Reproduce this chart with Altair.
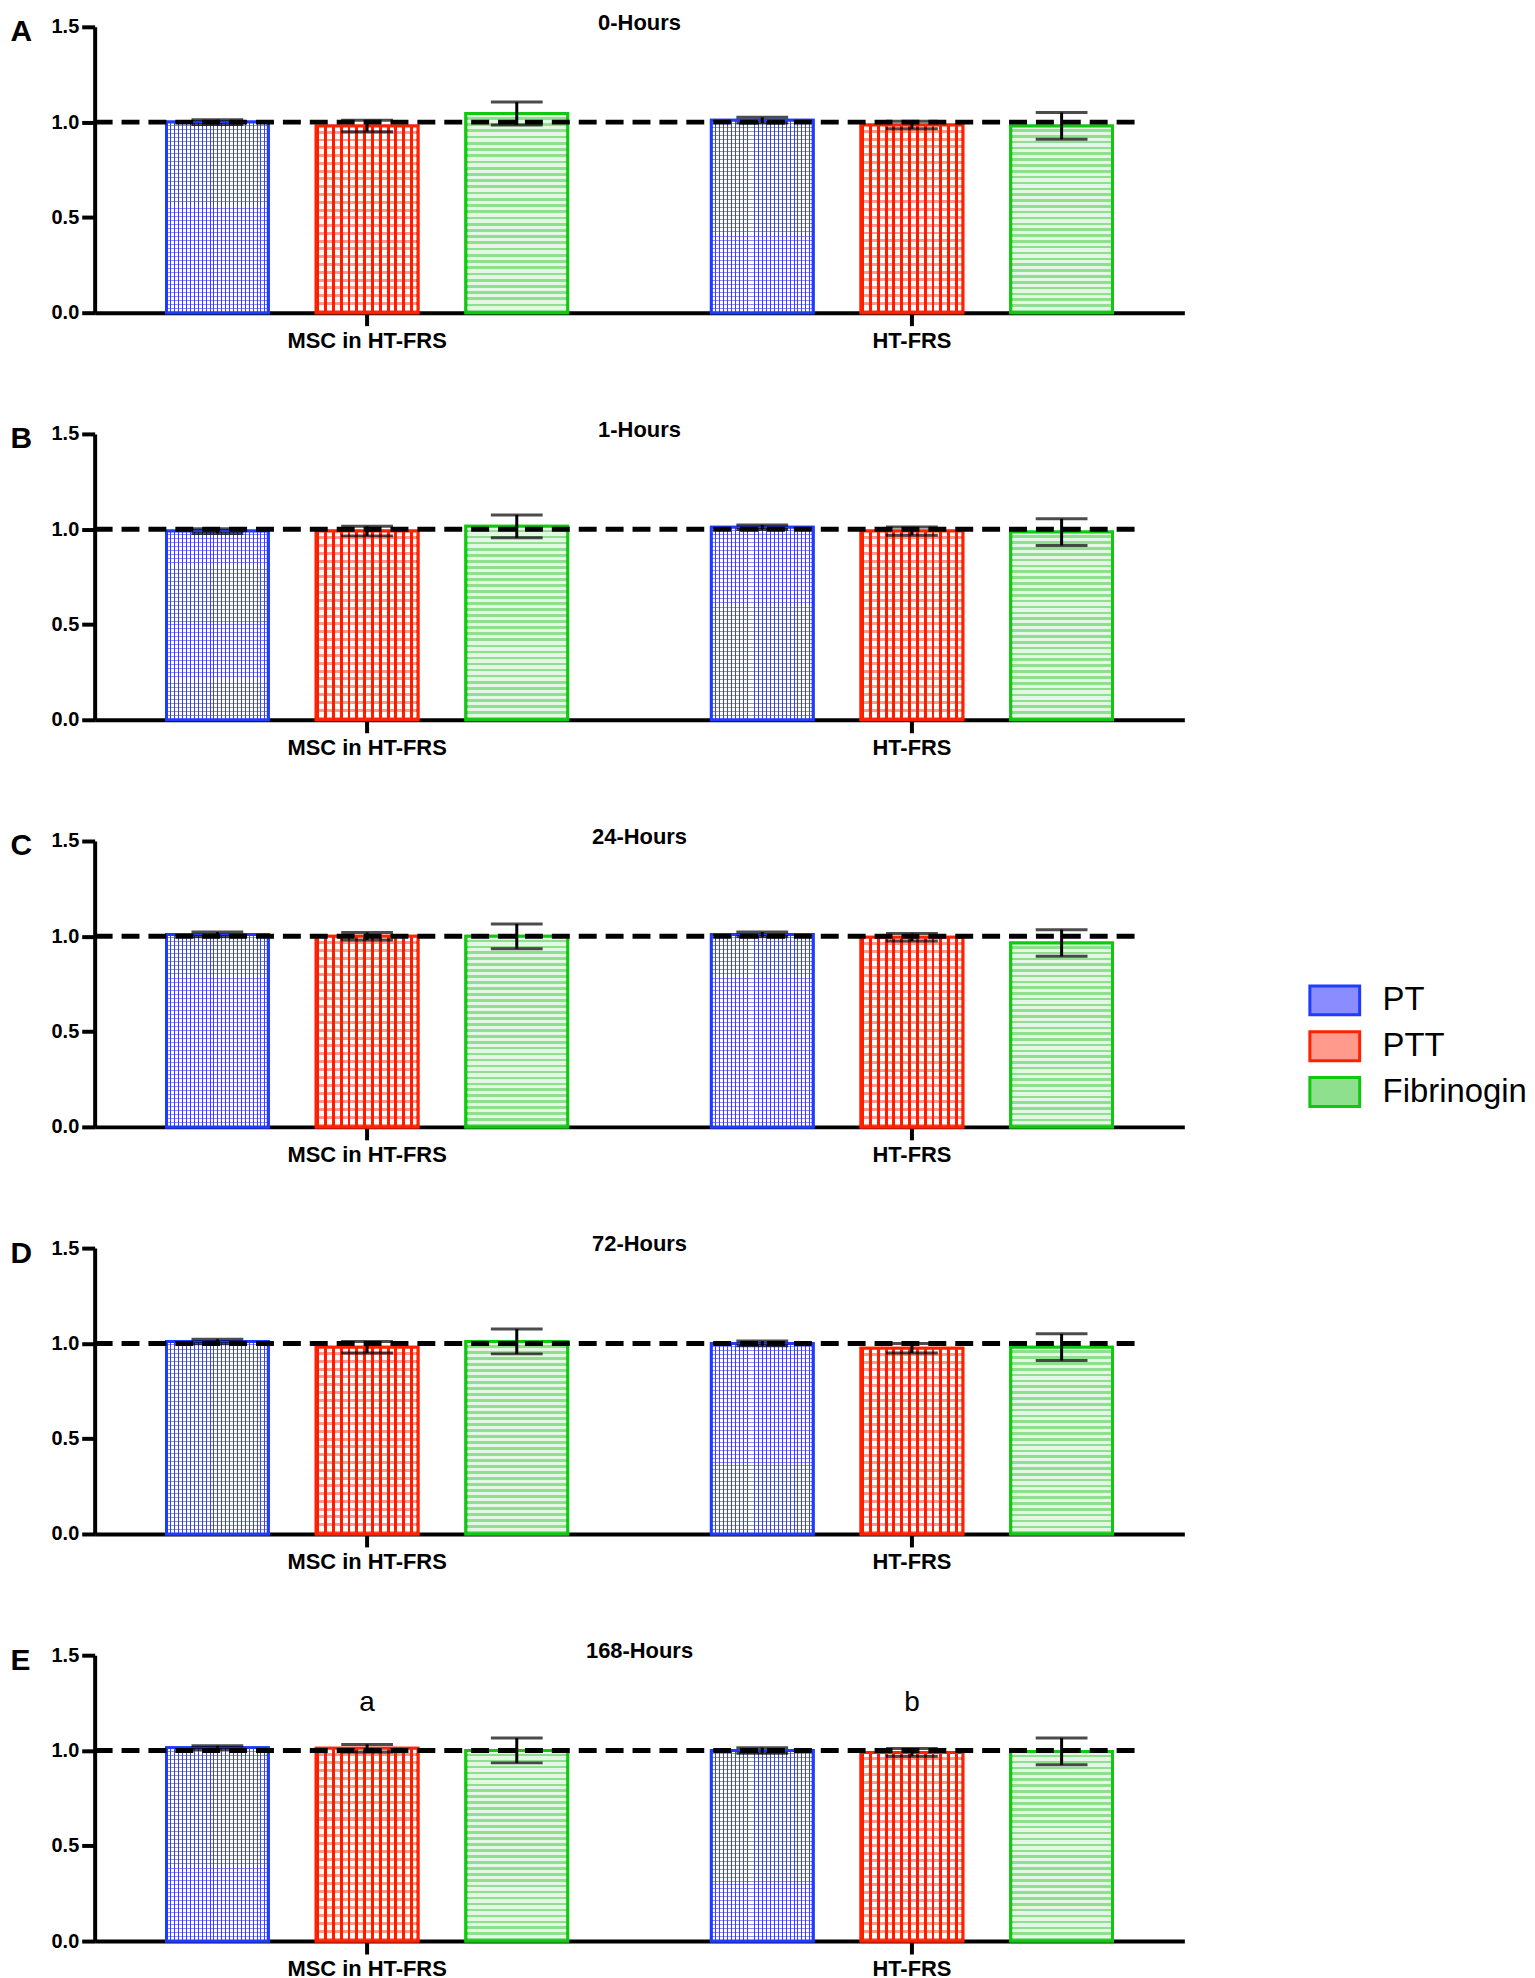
import altair as alt
import pandas as pd

groups = ["MSC in HT-FRS", "HT-FRS"]
series = ["PT", "PTT", "Fibrinogin"]
panel_letters = ["A", "B", "C", "D", "E"]
panel_titles = ["0-Hours", "1-Hours", "24-Hours", "72-Hours", "168-Hours"]

# ratio to baseline, order: MSC PT, PTT, Fib | HT-FRS PT, PTT, Fib
means = [
    [1.000, 0.980, 1.045, 1.010, 0.985, 0.980],
    [0.990, 0.990, 1.015, 1.010, 0.990, 0.985],
    [1.010, 1.000, 1.000, 1.010, 0.995, 0.965],
    [1.010, 0.980, 1.010, 1.000, 0.975, 0.980],
    [1.015, 1.012, 1.000, 1.000, 0.990, 0.995],
]
errors = [
    [0.012, 0.030, 0.060, 0.015, 0.020, 0.070],
    [0.012, 0.025, 0.060, 0.012, 0.022, 0.070],
    [0.012, 0.020, 0.065, 0.012, 0.020, 0.070],
    [0.012, 0.030, 0.065, 0.012, 0.025, 0.070],
    [0.010, 0.020, 0.065, 0.015, 0.020, 0.070],
]
ref_value = [1.0]

# letters above the PTT bars in panel E
annot_groups = ["MSC in HT-FRS", "HT-FRS"]
annot_series = ["PTT", "PTT"]
annot_text = ["a", "b"]
annot_y = [1.25, 1.25]

line_colors = ["#1e3cff", "#ff2200", "#10c810"]
light_colors = ["#8a8cff", "#ff9a8c", "#8ee08e"]
FONT = "Liberation Sans"


def stripes(color_a, color_b, n, frac_a, along_y):
    stops = []
    for i in range(n):
        s, m, e = i / n, (i + frac_a) / n, (i + 1) / n
        stops += [
            {"offset": s, "color": color_a},
            {"offset": m, "color": color_a},
            {"offset": m, "color": color_b},
            {"offset": e, "color": color_b},
        ]
    coords = {"x1": 0, "y1": 0, "x2": 0, "y2": 1} if along_y else {"x1": 0, "y1": 0, "x2": 1, "y2": 0}
    return {"gradient": "linear", **coords, "stops": stops}


CLEAR = "rgba(255,255,255,0)"
# (white horizontal stripes, coloured vertical stripes) per series
patterns = {
    "PT": (stripes("#ffffff", CLEAR, 48, 0.75, True), stripes("#3b3bff", CLEAR, 26, 0.25, False)),
    "PTT": (stripes("#ffffff", CLEAR, 24, 0.62, True), stripes("#ff1a00", CLEAR, 13, 0.38, False)),
    "Fibrinogin": (stripes("#e4f7e4", CLEAR, 32, 0.55, True), None),
}


def panel(idx):
    rows = []
    for gi, g in enumerate(groups):
        for si, s in enumerate(series):
            m = means[idx][gi * 3 + si]
            e = errors[idx][gi * 3 + si]
            rows.append({"group": g, "series": s, "mean": m, "lo": m - e, "hi": m + e})
    df = pd.DataFrame(rows)

    x = alt.X(
        "group:N",
        sort=groups,
        scale=alt.Scale(paddingInner=0, paddingOuter=0),
        axis=alt.Axis(
            title=None, labelAngle=0, labelFontSize=22, labelFontWeight="bold",
            tickSize=13, tickWidth=4, domainWidth=4, labelPadding=5,
        ),
    )
    xo = alt.XOffset(
        "series:N", sort=series,
        scale=alt.Scale(domain=series, paddingInner=0.32, paddingOuter=0.48),
    )
    y = alt.Y(
        "mean:Q",
        scale=alt.Scale(domain=[0, 1.5], nice=False),
        axis=alt.Axis(
            values=[0, 0.5, 1.0, 1.5], format=".1f", grid=False,
            tickSize=13, tickWidth=4, domainWidth=4, labelFontSize=20,
            labelFontWeight="bold", labelPadding=3,
            title=panel_letters[idx], titleAngle=0, titleAlign="left",
            titleBaseline="alphabetic", titleX=-85, titleY=14,
            titleFontSize=30, titleFontWeight="bold",
        ),
    )

    if idx == 2:
        sym = "M-1.064,-0.617H1.064V0.617H-1.064Z"
        leg = alt.Legend(
            title=None, orient="none", legendX=1220, legendY=135,
            symbolType=sym, symbolSize=2209, symbolStrokeWidth=3,
            labelFontSize=33, labelFont=FONT, labelOffset=23,
            rowPadding=0, padding=0, labelColor="black",
        )
    else:
        leg = None

    fill_kw = {"legend": leg} if leg is not None else {"legend": None}
    base = alt.Chart(df).mark_bar(strokeWidth=3).encode(
        x=x, xOffset=xo, y=y,
        fill=alt.Fill("series:N", sort=series, scale=alt.Scale(domain=series, range=light_colors), **fill_kw),
        stroke=alt.Stroke("series:N", sort=series, scale=alt.Scale(domain=series, range=line_colors), **fill_kw),
    )

    layers = [base]
    for si, s in enumerate(series):
        h_pat, v_pat = patterns[s]
        sub = alt.Chart(df).transform_filter(alt.datum.series == s)
        layers.append(sub.mark_bar(fill=h_pat).encode(x=x, xOffset=xo, y=y))
        if v_pat is not None:
            layers.append(sub.mark_bar(fill=v_pat).encode(x=x, xOffset=xo, y=y))
        layers.append(
            sub.mark_bar(fillOpacity=0, stroke=line_colors[si], strokeWidth=3).encode(x=x, xOffset=xo, y=y)
        )

    dashed = alt.Chart(pd.DataFrame({"ref": ref_value})).mark_rule(
        strokeDash=[18, 9], strokeWidth=5, color="black"
    ).encode(y="ref:Q", x=alt.value(0), x2=alt.value(1052))
    layers.append(dashed)

    err = alt.Chart(df)
    layers.append(err.mark_rule(color="black", strokeWidth=3).encode(x=x, xOffset=xo, y="lo:Q", y2="hi:Q"))
    layers.append(err.mark_tick(color="black", size=52, thickness=3).encode(x=x, xOffset=xo, y="lo:Q"))
    layers.append(err.mark_tick(color="black", size=52, thickness=3).encode(x=x, xOffset=xo, y="hi:Q"))

    if idx == 4:
        ann = pd.DataFrame({"group": annot_groups, "series": annot_series, "text": annot_text, "y": annot_y})
        layers.append(
            alt.Chart(ann).mark_text(fontSize=28, color="black", font=FONT).encode(
                x=x, xOffset=xo, y="y:Q", text="text:N"
            )
        )

    return alt.layer(*layers).properties(
        width=1094, height=287,
        title=alt.TitleParams(panel_titles[idx], fontSize=22, fontWeight="bold", offset=-18, anchor="middle"),
    )


chart = (
    alt.vconcat(*[panel(i) for i in range(5)], spacing=67.7)
    .resolve_legend(fill="independent", stroke="independent")
    .properties(padding={"left": 2, "top": 0, "right": 0, "bottom": 0})
    .configure(font=FONT)
    .configure_view(strokeWidth=0)
    .configure_axis(labelColor="black", titleColor="black", domainColor="black", tickColor="black")
    .configure_title(color="black", font=FONT)
)

chart.save("out.html", embed_options={"renderer": "svg", "actions": False})
